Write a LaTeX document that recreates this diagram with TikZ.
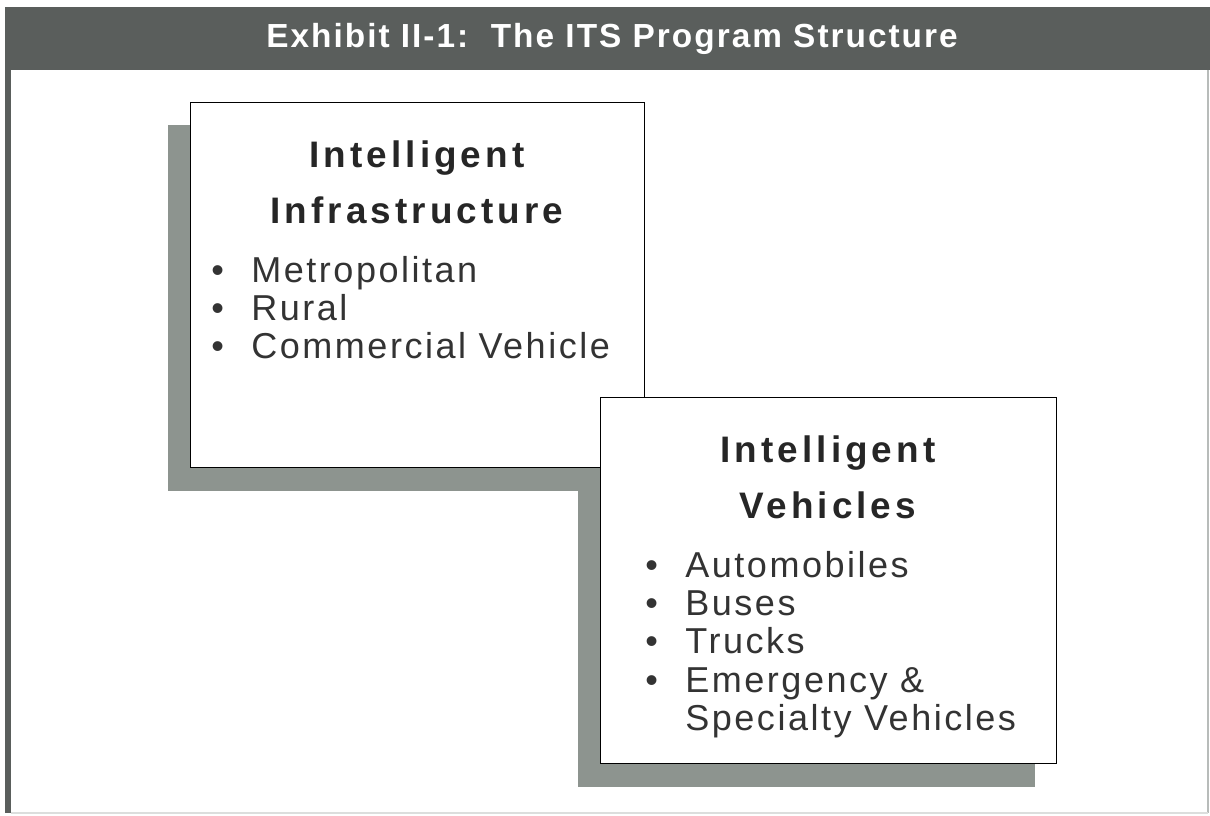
\documentclass[tikz,border=0pt]{standalone}
\usepackage{fontspec}
\setmainfont{Liberation Sans}
\newfontfamily\barfont[LetterSpace=6]{Liberation Sans}
\newfontfamily\headfont[LetterSpace=11]{Liberation Sans}
\newfontfamily\itemfont[LetterSpace=7]{Liberation Sans}
\usetikzlibrary{backgrounds}
\definecolor{bargray}{HTML}{5A5E5C}
\definecolor{shadegray}{HTML}{8D948F}
\definecolor{edgegray}{HTML}{B8BCBA}
\newcommand{\itm}[1]{\makebox[0.8cm][l]{\textbullet}#1}
\tikzset{
  panel/.style={draw=black,line width=0.8pt,fill=white,inner sep=0pt},
  head/.style={anchor=base,font=\headfont\bfseries\fontsize{21}{32}\selectfont,text=black!85},
  item/.style={anchor=base west,font=\itemfont\fontsize{20.5}{22}\selectfont,text=black!80,inner sep=0pt}
}
\begin{document}
\begin{tikzpicture}[x=0.02cm,y=-0.02cm]
  \useasboundingbox (0,0) rectangle (1210,815);
  % banner and frame
  \fill[bargray] (5,7) rectangle (1210,70);
  \node[anchor=base,font=\barfont\bfseries\fontsize{19}{22}\selectfont,text=white] (title) at (612,47) {Exhibit II-1:\ \ The ITS Program Structure};
  \fill[bargray] (5,70) rectangle (11,813);
  \draw[edgegray,line width=0.6pt] (1208,70) -- (1208,813);
  \draw[edgegray!50,line width=0.6pt] (11,813) -- (1208,813);
  % the two boxes
  \node[panel,minimum width=9.08cm,minimum height=7.3cm,anchor=north west] (infra) at (190,102) {};
  \node[panel,minimum width=9.12cm,minimum height=7.32cm,anchor=north west] (veh) at (600,397) {};
  \begin{scope}[on background layer]
    \fill[shadegray] ([shift={(-22,23)}]infra.north west) rectangle ([shift={(-22,23)}]infra.south east);
    \fill[shadegray] ([shift={(-22,23)}]veh.north west) rectangle ([shift={(-22,23)}]veh.south east);
  \end{scope}
  % infrastructure text
  \node[head] (infrahead1) at (417,167) {Intelligent};
  \node[head] (infrahead2) at (417,223) {Infrastructure};
  \node[item] (metro) at (211,282) {\itm{Metropolitan}};
  \node[item] (rural) at (211,320) {\itm{Rural}};
  \node[item] (cvo) at (211,358) {\itm{Commercial Vehicle}};
  % vehicles text
  \node[head] (vehhead1) at (828,462) {Intelligent};
  \node[head] (vehhead2) at (828,518) {Vehicles};
  \node[item] (auto) at (645,577) {\itm{Automobiles}};
  \node[item] (bus) at (645,615) {\itm{Buses}};
  \node[item] (truck) at (645,653) {\itm{Trucks}};
  \node[item] (emerg) at (645,692) {\itm{Emergency \&}};
  \node[item] (spec) at (685,730) {Specialty Vehicles};
\end{tikzpicture}
\end{document}
